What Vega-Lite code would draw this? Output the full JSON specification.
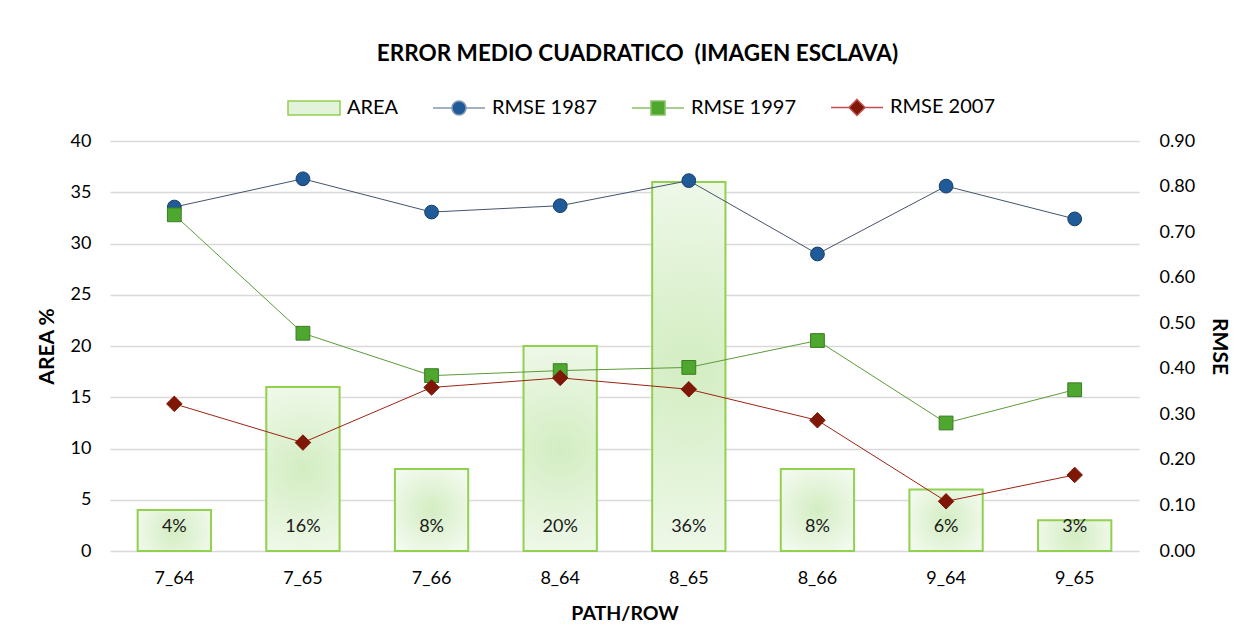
{
  "$schema": "https://vega.github.io/schema/vega-lite/v6.json",
  "width": 1029,
  "height": 410,
  "autosize": "none",
  "padding": {"left": 110, "top": 141, "right": 105, "bottom": 84},
  "background": "white",
  "config": {"font": "Lato", "view": {"stroke": null}},
  "title": {
    "text": "ERROR MEDIO CUADRATICO\u00a0\u00a0(IMAGEN ESCLAVA)",
    "font": "Lato", "fontSize": 22.5, "fontWeight": "bold", "color": "#000000",
    "anchor": "middle", "dx": 13, "offset": 15
  },
  "data": {
    "values": [
      {"path": "7_64", "AREA": 4, "R1987": 0.755, "R1997": 0.738, "R2007": 0.323},
      {"path": "7_65", "AREA": 16, "R1987": 0.817, "R1997": 0.478, "R2007": 0.238},
      {"path": "7_66", "AREA": 8, "R1987": 0.744, "R1997": 0.385, "R2007": 0.359},
      {"path": "8_64", "AREA": 20, "R1987": 0.758, "R1997": 0.396, "R2007": 0.380},
      {"path": "8_65", "AREA": 36, "R1987": 0.813, "R1997": 0.403, "R2007": 0.355},
      {"path": "8_66", "AREA": 8, "R1987": 0.652, "R1997": 0.462, "R2007": 0.287},
      {"path": "9_64", "AREA": 6, "R1987": 0.801, "R1997": 0.281, "R2007": 0.109},
      {"path": "9_65", "AREA": 3, "R1987": 0.729, "R1997": 0.354, "R2007": 0.167}
    ]
  },
  "encoding": {
    "x": {
      "field": "path", "type": "nominal", "sort": null,
      "scale": {"paddingInner": 0.43, "paddingOuter": 0.215},
      "axis": {
        "title": "PATH/ROW", "labelAngle": 0, "domain": false, "ticks": false,
        "labelFont": "Lato", "labelFontSize": 18, "labelColor": "#000000", "labelPadding": 18,
        "titleFont": "Lato", "titleFontSize": 19.5, "titleFontWeight": "bold", "titleColor": "#000000", "titlePadding": 17
      }
    }
  },
  "layer": [
    {
      "layer": [
        {
          "mark": {
            "type": "bar",
            "fill": {
              "gradient": "radial", "x1": 0.5, "y1": 0.5, "x2": 0.5, "y2": 0.5, "r1": 0, "r2": 0.6,
              "stops": [{"offset": 0, "color": "#d3edc2"}, {"offset": 1, "color": "#f3faef"}]
            },
            "stroke": "#92d050", "strokeWidth": 2
          },
          "encoding": {
            "y": {
              "field": "AREA", "type": "quantitative",
              "scale": {"domain": [0, 40]},
              "axis": {
                "orient": "left", "title": "AREA %", "values": [0, 5, 10, 15, 20, 25, 30, 35, 40],
                "grid": true, "gridColor": "#d9d9d9", "gridWidth": 1.3, "domain": false, "ticks": false,
                "labelFont": "Lato", "labelFontSize": 18, "labelColor": "#000000", "labelPadding": 19,
                "titleFont": "Lato", "titleFontSize": 21, "titleFontWeight": "bold", "titleColor": "#000000", "titlePadding": 13
              }
            }
          }
        },
        {
          "transform": [{"calculate": "datum.AREA + '%'", "as": "lbl"}],
          "mark": {"type": "text", "font": "Lato", "fontSize": 18, "color": "#1a1a1a", "baseline": "middle", "dy": -24},
          "encoding": {
            "y": {"datum": 0, "type": "quantitative"},
            "text": {"field": "lbl", "type": "nominal"}
          }
        }
      ]
    },
    {
      "layer": [
        {
          "mark": {
            "type": "line", "color": "#44546a", "strokeWidth": 1,
            "point": {"shape": "circle", "filled": true, "color": "#1f5b99", "stroke": "#1b3d63", "strokeWidth": 1, "size": 190, "opacity": 1}
          },
          "encoding": {
            "y": {
              "field": "R1987", "type": "quantitative",
              "scale": {"domain": [0, 0.9]},
              "axis": {
                "orient": "right", "title": "RMSE", "values": [0, 0.1, 0.2, 0.3, 0.4, 0.5, 0.6, 0.7, 0.8, 0.9],
                "format": ".2f", "grid": false, "domain": false, "ticks": false,
                "labelFont": "Lato", "labelFontSize": 18, "labelColor": "#000000", "labelPadding": 20,
                "titleFont": "Lato", "titleFontSize": 21, "titleFontWeight": "bold", "titleColor": "#000000", "titlePadding": 14
              }
            }
          }
        },
        {
          "mark": {
            "type": "line", "color": "#5b9b3a", "strokeWidth": 1,
            "point": {"shape": "square", "filled": true, "color": "#4ea72e", "stroke": "#3a7d22", "strokeWidth": 1, "size": 190, "opacity": 1}
          },
          "encoding": {"y": {"field": "R1997", "type": "quantitative"}}
        },
        {
          "mark": {
            "type": "line", "color": "#9c2414", "strokeWidth": 1,
            "point": {"shape": "diamond", "filled": true, "color": "#7f1706", "stroke": "#7f1706", "strokeWidth": 1, "size": 240, "opacity": 1}
          },
          "encoding": {"y": {"field": "R2007", "type": "quantitative"}}
        },
        {
          "mark": {"type": "point", "opacity": 0, "filled": true},
          "encoding": {
            "y": {"field": "R2007", "type": "quantitative"},
            "shape": {
              "datum": "AREA", "type": "nominal",
              "scale": {
                "domain": ["AREA", "RMSE 1987", "RMSE 1997", "RMSE 2007"],
                "range": [
                  "M-1,-0.27H1V0.27H-1Z",
                  "M-1,0H-0.27M0.27,0H1M0.27,0A0.27,0.27,0,1,1,-0.27,0A0.27,0.27,0,1,1,0.27,0Z",
                  "M-1,0H-0.27M0.27,0H1M-0.27,-0.27H0.27V0.27H-0.27Z",
                  "M-1,0H-0.31M0.31,0H1M0,-0.31L0.31,0L0,0.31L-0.31,0Z"
                ]
              },
              "legend": {
                "orient": "none", "legendX": 177, "legendY": -61, "direction": "horizontal",
                "title": null, "symbolSize": 2704, "symbolStrokeWidth": 1.5, "symbolOpacity": 1,
                "labelFont": "Lato", "labelFontSize": 20, "labelColor": "#000000", "labelOffset": 6,
                "columnPadding": 31
              }
            },
            "fill": {
              "datum": "AREA", "type": "nominal",
              "scale": {
                "domain": ["AREA", "RMSE 1987", "RMSE 1997", "RMSE 2007"],
                "range": ["#e3f3d9", "#1f5b99", "#4ea72e", "#7f1706"]
              },
              "legend": {
                "orient": "none", "legendX": 177, "legendY": -61, "direction": "horizontal",
                "title": null, "symbolSize": 2704, "symbolStrokeWidth": 1.5, "symbolOpacity": 1,
                "labelFont": "Lato", "labelFontSize": 20, "labelColor": "#000000", "labelOffset": 6,
                "columnPadding": 31
              }
            },
            "stroke": {
              "datum": "AREA", "type": "nominal",
              "scale": {
                "domain": ["AREA", "RMSE 1987", "RMSE 1997", "RMSE 2007"],
                "range": ["#92d050", "#8496b0", "#8cc168", "#c0504d"]
              },
              "legend": {
                "orient": "none", "legendX": 177, "legendY": -61, "direction": "horizontal",
                "title": null, "symbolSize": 2704, "symbolStrokeWidth": 1.5, "symbolOpacity": 1,
                "labelFont": "Lato", "labelFontSize": 20, "labelColor": "#000000", "labelOffset": 6,
                "columnPadding": 31
              }
            }
          }
        }
      ]
    }
  ],
  "resolve": {"scale": {"y": "independent"}}
}
